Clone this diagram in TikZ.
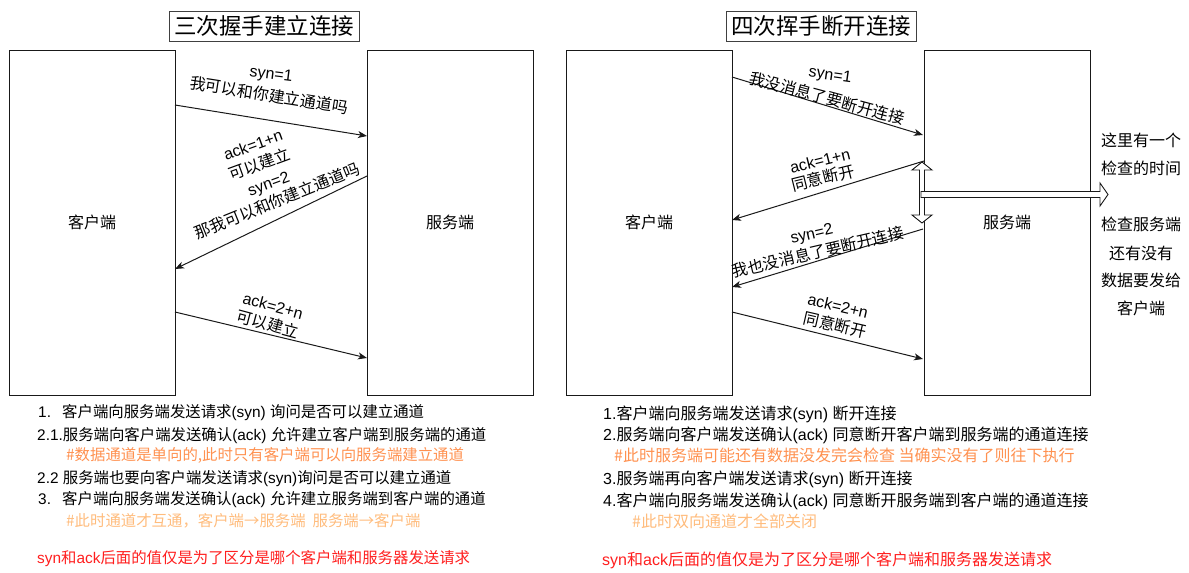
\documentclass[tikz,border=0pt]{standalone}
\usepackage{fontspec}
\setmainfont{Liberation Sans}
\newfontfamily\cjk{Noto Sans CJK SC}
\usetikzlibrary{arrows.meta}
\definecolor{orangeA}{RGB}{255,145,80}
\definecolor{orangeB}{RGB}{255,188,125}
\definecolor{redC}{RGB}{255,30,30}
\definecolor{lineC}{RGB}{25,25,25}
\newcommand\zh[1]{{\cjk #1}}
\begin{document}
\begin{tikzpicture}[x=1pt,y=-1pt,
  boxnode/.style={draw=lineC,line width=0.9pt,minimum width=166pt,minimum height=345pt,inner sep=0pt,font=\cjk\fontsize{16}{19}\selectfont},
  titlenode/.style={draw=black!75,line width=0.9pt,minimum width=190pt,minimum height=30pt,inner sep=0pt,font=\cjk\fontsize{22.5}{26}\selectfont},
  lbl/.style={inner sep=0pt,font=\fontsize{16}{19}\selectfont},
  txt/.style={anchor=base west,inner sep=0pt,font=\fontsize{16}{19}\selectfont},
  txtl/.style={anchor=base west,inner sep=0pt,font=\fontsize{15.4}{18}\selectfont},
  side/.style={inner sep=0pt,font=\cjk\fontsize{16}{19}\selectfont},
  arr/.style={draw=lineC,line width=1pt,-{Stealth[length=9pt,width=7pt,inset=2.5pt]}},
  dbl/.style={draw=lineC,line width=0.9pt,fill=white}]
\useasboundingbox (0,0) rectangle (1189,573);

% titles
\node[titlenode] (t1) at (264,26) {三次握手建立连接};
\node[titlenode] (t2) at (821,26) {四次挥手断开连接};

% boxes
\node[boxnode] (c1) at (92,222.5) {客户端};
\node[boxnode] (s1) at (450,222.5) {服务端};
\node[boxnode] (c2) at (649,222.5) {客户端};
\node[boxnode] (s2) at (1007,222.5) {服务端};

% left arrows
\coordinate (a1s) at (175,105);
\coordinate (a1e) at (367,136);
\coordinate (a2s) at (367,176);
\coordinate (a2e) at (175,269);
\coordinate (a3s) at (175,312);
\coordinate (a3e) at (367,358);
\draw[arr] (a1s) -- (a1e);
\draw[arr] (a2s) -- (a2e);
\draw[arr] (a3s) -- (a3e);
\node[lbl,rotate=-7] (l1a) at (271,75) {syn=1};
\node[lbl,rotate=-9] (l1b) at (269,95) {\zh{我可以和你建立通道吗}};
\node[lbl,rotate=20] (l2a) at (253,145) {ack=1+n};
\node[lbl,rotate=20] (l2b) at (259,164) {\zh{可以建立}};
\node[lbl,rotate=20] (l2c) at (269,185) {syn=2};
\node[lbl,rotate=22] (l2d) at (277,201) {\zh{那我可以和你建立通道吗}};
\node[lbl,rotate=-15] (l3a) at (273,306) {ack=2+n};
\node[lbl,rotate=-15] (l3b) at (268,324) {\zh{可以建立}};

% right arrows
\coordinate (b1s) at (732,77);
\coordinate (b1e) at (923,135);
\coordinate (b2s) at (924,161);
\coordinate (b2e) at (732,220);
\coordinate (b3s) at (923,229);
\coordinate (b3e) at (732,287);
\coordinate (b4s) at (732,312);
\coordinate (b4e) at (923,359);
\draw[arr] (b1s) -- (b1e);
\draw[arr] (b2s) -- (b2e);
\draw[arr] (b3s) -- (b3e);
\draw[arr] (b4s) -- (b4e);
\node[lbl,rotate=-8] (r1a) at (830,76) {syn=1};
\node[lbl,rotate=-15] (r1b) at (827,98) {\zh{我没消息了要断开连接}};
\node[lbl,rotate=14] (r2a) at (820,161) {ack=1+n};
\node[lbl,rotate=14] (r2b) at (823,178) {\zh{同意断开}};
\node[lbl,rotate=13] (r3a) at (812,235) {syn=2};
\node[lbl,rotate=13] (r3b) at (818,252) {\zh{我也没消息了要断开连接}};
\node[lbl,rotate=-13] (r4a) at (838,306) {ack=2+n};
\node[lbl,rotate=-13] (r4b) at (835,325) {\zh{同意断开}};

% double (flex) arrows
\draw[dbl] (922,162) -- (932,170) -- (924.5,170) -- (924.5,215) -- (932,215) -- (922,223)
  -- (912,215) -- (919.5,215) -- (919.5,170) -- (912,170) -- cycle;
\draw[dbl] (921,191.5) -- (1100,191.5) -- (1100,183) -- (1108,194.5) -- (1100,206) -- (1100,197.5) -- (921,197.5) -- cycle;

% side notes
\node[side] (n1) at (1141,140) {这里有一个};
\node[side] (n2) at (1141,168) {检查的时间};
\node[side] (n3) at (1141,224) {检查服务端};
\node[side] (n4) at (1141,253) {还有没有};
\node[side] (n5) at (1141,280) {数据要发给};
\node[side] (n6) at (1141,308) {客户端};

% left notes
\node[txtl] (p1) at (38,417) {\makebox[24pt][l]{1.}\zh{客户端向服务端发送请求}(syn) \zh{询问是否可以建立通道}};
\node[txtl] (p2) at (37,440) {2.1.\zh{服务端向客户端发送确认}(ack) \zh{允许建立客户端到服务端的通道}};
\node[txtl,text=orangeA] (p3) at (66,460) {\zh{\#数据通道是单向的,此时只有客户端可以向服务端建立通道}};
\node[txtl] (p4) at (37,483) {2.2 \zh{服务端也要向客户端发送请求}(syn)\zh{询问是否可以建立通道}};
\node[txtl] (p5) at (38,504) {\makebox[24pt][l]{3.}\zh{客户端向服务端发送确认}(ack) \zh{允许建立服务端到客户端的通道}};
\node[txtl,text=orangeB] (p6) at (66,526) {\zh{\#此时通道才互通，客户端→服务端\ \ 服务端→客户端}};
\node[txtl,text=redC] (p7) at (37,563) {syn\zh{和}ack\zh{后面的值仅是为了区分是哪个客户端和服务器发送请求}};

% right notes
\node[txt] (q1) at (603,419) {1.\zh{客户端向服务端发送请求}(syn) \zh{断开连接}};
\node[txt] (q2) at (603,440) {2.\zh{服务端向客户端发送确认}(ack) \zh{同意断开客户端到服务端的通道连接}};
\node[txt,text=orangeA] (q3) at (614,461) {\zh{\#此时服务端可能还有数据没发完会检查 当确实没有了则往下执行}};
\node[txt] (q4) at (603,484) {3.\zh{服务端再向客户端发送请求}(syn) \zh{断开连接}};
\node[txt] (q5) at (603,506) {4.\zh{客户端向服务端发送确认}(ack) \zh{同意断开服务端到客户端的通道连接}};
\node[txt,text=orangeB] (q6) at (632,527) {\zh{\#此时双向通道才全部关闭}};
\node[txt,text=redC] (q7) at (602,565) {syn\zh{和}ack\zh{后面的值仅是为了区分是哪个客户端和服务器发送请求}};
\end{tikzpicture}
\end{document}
